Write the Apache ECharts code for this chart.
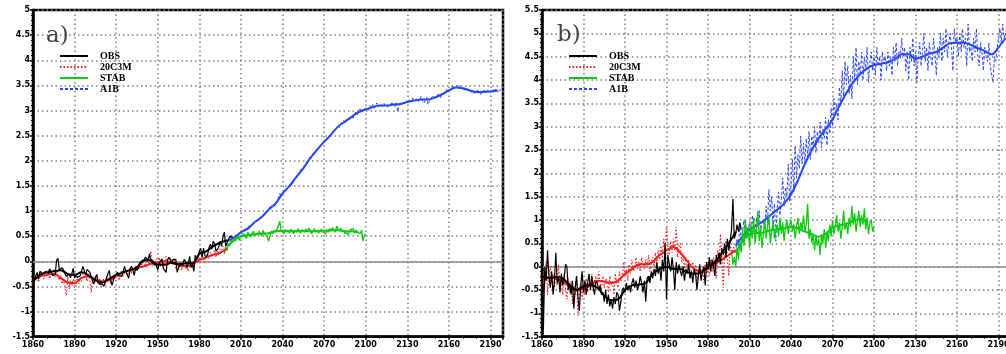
<!DOCTYPE html>
<html>
<head>
<meta charset="utf-8">
<script src="https://cdn.jsdelivr.net/npm/echarts@6/dist/echarts.min.js"></script>
<style>
html,body{margin:0;padding:0;background:#fff;overflow:hidden;}
#c{width:1015px;height:354px;}
</style>
</head>
<body>
<div id="c"></div>
<script>
// ---------- DATA (panel a) ----------
const obsStart = 1860;
const obsA = [
-0.55,-0.35,-0.38,-0.22,-0.35,-0.2,-0.22,-0.25,-0.22,-0.2,
-0.18,-0.24,-0.15,-0.2,-0.28,-0.3,-0.27,0.02,0.06,-0.17,
-0.2,-0.13,-0.17,-0.24,-0.3,-0.29,-0.26,-0.33,-0.25,-0.14,
-0.33,-0.27,-0.32,-0.33,-0.29,-0.26,-0.1,-0.12,-0.27,-0.16,
-0.14,-0.22,-0.3,-0.4,-0.45,-0.32,-0.26,-0.42,-0.46,-0.48,
-0.45,-0.5,-0.42,-0.4,-0.25,-0.18,-0.37,-0.48,-0.38,-0.28,
-0.28,-0.22,-0.29,-0.28,-0.3,-0.21,-0.1,-0.2,-0.19,-0.34,
-0.15,-0.1,-0.16,-0.28,-0.14,-0.18,-0.13,-0.02,0.0,-0.03,
0.02,0.08,0.06,0.03,0.15,0.0,-0.02,-0.06,-0.07,-0.08,
-0.18,-0.03,0.0,0.05,-0.14,-0.15,-0.22,0.02,0.08,0.03,
-0.05,0.04,0.01,0.04,-0.22,-0.13,-0.06,-0.04,-0.08,0.04,
0.0,-0.13,-0.04,0.1,-0.12,-0.06,-0.2,0.12,0.03,0.1,
0.2,0.26,0.08,0.26,0.12,0.08,0.14,0.28,0.34,0.24,
0.4,0.35,0.2,0.2,0.28,0.4,0.3,0.48,0.58,0.3,
0.32,0.44,0.5,0.5,0.48];
const smoothStep = 5;
const obsSmoothA = [-0.4,-0.27,-0.22,-0.2,-0.18,-0.25,-0.27,-0.22,-0.28,-0.38,-0.42,-0.35,-0.27,-0.22,-0.17,-0.12,0.02,0.02,-0.07,-0.07,-0.03,-0.06,-0.04,-0.04,0.15,0.2,0.3,0.37,0.42];
const c20Start = 1860;
const c20A = [
-0.45,-0.3,-0.38,-0.25,-0.42,-0.3,-0.2,-0.28,-0.35,-0.22,
-0.3,-0.18,-0.35,-0.2,-0.27,-0.15,-0.32,-0.2,-0.3,-0.38,
-0.28,-0.45,-0.35,-0.5,-0.68,-0.3,-0.55,-0.38,-0.48,-0.35,
-0.42,-0.5,-0.3,-0.45,-0.33,-0.4,-0.25,-0.32,-0.28,-0.4,
-0.25,-0.35,-0.62,-0.3,-0.42,-0.38,-0.28,-0.45,-0.35,-0.5,
-0.42,-0.35,-0.48,-0.3,-0.4,-0.32,-0.45,-0.38,-0.28,-0.35,
-0.3,-0.22,-0.38,-0.25,-0.18,-0.3,-0.2,-0.15,-0.28,-0.2,
-0.12,-0.25,-0.15,-0.2,-0.08,-0.18,-0.1,-0.15,-0.05,-0.12,
-0.15,-0.05,-0.12,0.05,-0.08,0.2,-0.1,-0.02,-0.08,0.05,
-0.05,0.08,-0.1,0.02,0.05,-0.08,0.1,0.0,-0.05,0.07,
0.02,-0.08,0.05,-0.15,-0.05,-0.12,0.0,-0.18,-0.1,-0.05,
-0.15,-0.08,-0.2,-0.05,-0.12,0.0,-0.1,-0.02,0.05,-0.03,
0.08,0.0,0.1,0.05,-0.02,0.12,0.15,0.05,0.18,0.1,
0.15,0.22,0.08,0.2,0.12,0.25,0.18,0.3,0.22,0.28];
const c20SmoothA = [-0.38,-0.3,-0.27,-0.25,-0.33,-0.42,-0.43,-0.33,-0.3,-0.36,-0.4,-0.38,-0.3,-0.22,-0.18,-0.13,-0.1,-0.05,-0.03,0.0,-0.02,-0.08,-0.1,-0.06,0.03,0.08,0.13,0.17,0.24];
const stabStartA = 1998;
const stabA = [
0.15,0.28,
0.22,0.35,0.3,0.42,0.38,0.45,0.4,0.5,0.48,0.42,
0.52,0.48,0.55,0.5,0.45,0.58,0.52,0.48,0.55,0.6,
0.5,0.56,0.52,0.6,0.55,0.5,0.62,0.55,0.58,0.48,
0.4,0.52,0.6,0.55,0.62,0.58,0.65,0.7,0.8,0.62,
0.6,0.55,0.63,0.58,0.62,0.56,0.64,0.6,0.55,0.62,
0.58,0.65,0.6,0.56,0.63,0.6,0.58,0.64,0.6,0.66,
0.62,0.55,0.6,0.65,0.58,0.62,0.56,0.6,0.64,0.58,
0.6,0.55,0.62,0.58,0.65,0.6,0.67,0.62,0.58,0.7,
0.64,0.6,0.66,0.58,0.62,0.55,0.6,0.52,0.58,0.63,
0.6,0.65,0.56,0.62,0.58,0.6,0.55,0.62,0.4,0.52,
0.55];
const futSmoothStart = 2000;
const stabSmoothA = [0.3,0.42,0.5,0.52,0.54,0.55,0.56,0.6,0.61,0.6,0.6,0.61,0.6,0.6,0.61,0.62,0.62,0.6,0.6,0.57];
const a1bStart = 2000;
const a1bA = [
0.4,0.45,0.42,0.48,0.5,0.46,0.52,0.55,0.5,0.57,
0.58,0.55,0.62,0.6,0.66,0.63,0.7,0.68,0.74,0.72,
0.76,0.8,0.78,0.85,0.82,0.9,0.88,0.95,0.92,1.0,
1.02,1.08,1.05,1.12,1.15,1.1,1.2,1.25,1.35,1.3,
1.32,1.38,1.35,1.42,1.47,1.5,1.55,1.5,1.62,1.65,
1.68,1.72,1.78,1.82,1.8,1.88,1.92,1.95,2.0,2.05,
2.08,2.1,2.15,2.12,2.2,2.22,2.25,2.3,2.28,2.35,
2.38,2.42,2.45,2.48,2.5,2.52,2.56,2.55,2.62,2.65,
2.7,2.66,2.74,2.72,2.8,2.76,2.82,2.85,2.8,2.88,
2.9,2.85,2.93,2.98,2.92,3.0,3.05,2.95,3.02,3.0,
3.05,3.08,3.0,3.1,3.06,3.12,3.04,3.1,3.15,3.08,
3.05,3.12,3.08,3.15,3.1,3.13,3.07,3.12,3.1,3.15,
3.12,3.08,3.15,2.98,3.1,3.16,3.12,3.18,3.14,3.2,
3.15,3.2,3.22,3.18,3.25,3.2,3.17,3.24,3.18,3.22,
3.28,3.2,3.15,3.22,3.26,3.12,3.2,3.25,3.22,3.3,
3.25,3.3,3.28,3.32,3.26,3.35,3.3,3.38,3.42,3.36,
3.4,3.45,3.42,3.48,3.5,3.46,3.52,3.48,3.45,3.5,
3.42,3.46,3.4,3.44,3.38,3.42,3.36,3.4,3.34,3.38,
3.35,3.4,3.36,3.32,3.38,3.35,3.4,3.36,3.42,3.38,
3.4,3.35,3.42,3.38,3.44,3.4,3.36,3.42,3.38,3.4];
const a1bSmoothA = [0.4,0.47,0.58,0.65,0.78,0.88,1.03,1.15,1.35,1.5,1.68,1.85,2.05,2.22,2.38,2.52,2.68,2.78,2.88,2.97,3.02,3.07,3.1,3.1,3.12,3.13,3.17,3.2,3.22,3.22,3.26,3.32,3.4,3.46,3.44,3.4,3.37,3.37,3.38,3.4];

// ---------- DATA (panel b) ----------
const obsB = [
0.2,-1.35,0.0,-0.3,0.35,-0.2,-0.45,-0.1,-0.6,-0.3,
0.3,-0.35,-0.2,-0.55,-0.15,-0.4,-0.25,0.05,0.0,-0.5,
-0.35,-0.6,-0.3,-0.9,-0.45,-0.2,-0.65,-0.95,-0.4,-0.1,
-0.55,-0.3,-0.6,-0.35,-0.15,-0.5,-0.2,-0.45,-0.6,-0.3,
-0.35,-0.5,-0.4,-0.6,-0.55,-0.75,-0.5,-0.8,-0.6,-0.85,
-0.7,-0.9,-0.65,-0.8,-0.55,-0.6,-0.95,-0.75,-0.5,-0.45,
-0.55,-0.35,-0.5,-0.4,-0.55,-0.35,-0.25,-0.45,-0.3,-0.5,
-0.4,-0.2,-0.35,-0.55,-0.3,-0.75,-0.25,-0.2,-0.35,-0.1,
-0.25,-0.05,-0.2,0.1,-0.15,0.0,-0.3,0.15,-0.1,0.5,
-0.7,0.25,0.05,-0.1,0.2,-0.05,-0.5,0.1,-0.15,0.05,
-0.1,-0.2,0.0,-0.3,-0.05,-0.15,0.05,-0.25,-0.1,-0.35,
-0.05,-0.15,-0.5,-0.2,0.05,-0.3,-0.1,0.0,-0.4,0.1,
-0.05,0.2,-0.1,0.15,0.0,-0.2,0.25,0.1,0.3,0.05,
0.4,0.25,0.5,0.2,0.6,0.35,0.55,0.8,1.45,0.6,
0.7,0.9,0.75,0.95,0.8];
const obsSmoothB = [-0.2,-0.25,-0.22,-0.25,-0.4,-0.5,-0.42,-0.4,-0.45,-0.62,-0.72,-0.7,-0.5,-0.4,-0.38,-0.35,-0.15,-0.05,0.0,-0.05,-0.05,-0.12,-0.15,-0.12,0.0,0.1,0.3,0.5,0.75];
const c20B = [
-0.5,-0.1,-0.4,0.1,-0.6,-0.2,0.0,-0.35,-0.15,-0.45,
-0.2,-0.4,0.05,-0.5,-0.3,-0.6,-0.15,-0.45,-0.7,-0.25,
-0.55,-0.3,-0.8,-0.4,-0.6,-0.2,-1.05,-0.5,-0.35,-0.7,
-0.4,-0.6,-0.25,-0.55,-0.35,-0.5,-0.15,-0.45,-0.3,-0.2,
-0.4,-0.1,-0.35,-0.5,-0.2,-0.45,-0.25,-0.3,-0.55,-0.2,
-0.4,-0.3,-0.6,-0.15,-0.35,-0.45,-0.1,-0.3,-0.25,0.1,
-0.2,-0.05,-0.3,0.05,-0.15,0.15,-0.1,0.0,0.2,-0.05,
0.1,-0.1,0.2,0.05,-0.05,0.15,0.0,0.25,-0.1,0.1,
0.2,0.0,0.3,0.1,0.35,0.15,0.45,0.2,0.6,0.3,
0.85,0.4,0.25,0.55,0.3,0.6,0.35,0.85,0.2,0.45,
0.5,0.1,0.3,-0.05,0.2,0.0,0.15,-0.2,-0.05,0.1,
-0.15,0.05,-0.3,-0.1,0.0,-0.2,-0.05,-0.35,0.1,-0.15,
0.0,-0.2,0.15,-0.1,0.2,0.05,-0.25,0.35,0.1,0.7,
0.15,-0.45,0.3,0.6,0.2,-0.2,0.45,0.35,0.3,0.5];
const c20SmoothB = [-0.38,-0.22,-0.25,-0.32,-0.42,-0.5,-0.48,-0.4,-0.3,-0.32,-0.35,-0.3,-0.15,-0.05,0.05,0.05,0.1,0.25,0.35,0.42,0.3,0.12,-0.05,-0.1,-0.05,0.05,0.15,0.25,0.35];
const stabStartB = 1997;
const stabB = [
0.35,0.05,0.2,
0.0,0.4,0.15,0.55,0.3,0.8,0.45,1.0,0.6,0.85,
0.4,0.9,0.6,1.05,0.5,0.75,1.2,0.55,0.85,0.4,
0.7,1.0,0.6,0.85,1.1,0.5,0.75,0.95,0.6,0.8,
0.9,0.65,1.05,0.7,0.95,0.55,0.85,1.0,0.7,0.9,
1.0,0.75,0.9,0.6,0.85,1.05,0.7,0.95,0.8,1.1,
0.75,0.9,1.35,0.6,0.8,0.5,0.7,0.35,0.65,0.45,
0.6,0.25,0.7,0.5,0.8,0.4,0.75,0.55,0.9,0.65,
1.0,0.7,0.85,1.1,0.75,0.95,0.6,0.85,1.2,0.8,
0.95,0.7,1.05,0.85,1.3,0.9,1.15,0.75,1.0,1.2,
0.85,1.1,0.9,1.25,0.8,1.05,0.7,0.95,1.0,0.75,
0.85];
const stabSmoothB = [0.3,0.55,0.7,0.72,0.73,0.78,0.8,0.82,0.86,0.82,0.75,0.7,0.64,0.7,0.84,0.88,0.92,0.98,1.02,0.95];
const a1bB = [
0.3,0.6,0.45,0.9,0.55,0.75,1.0,0.6,0.85,0.7,
0.95,0.65,1.1,0.8,0.7,1.05,0.85,1.2,0.75,0.9,
1.0,0.8,1.3,0.95,1.65,1.2,1.5,0.9,1.35,0.55,
1.25,1.6,1.1,1.45,1.9,1.3,1.7,1.5,2.2,1.4,
1.75,2.3,1.6,2.6,1.9,2.4,2.1,2.8,2.2,2.65,
2.2,2.75,2.35,2.9,2.3,2.8,2.55,3.0,2.45,2.9,
2.65,3.1,2.55,2.95,2.75,3.2,2.6,3.15,2.85,3.4,
3.0,3.6,3.25,3.5,3.15,3.85,3.45,4.2,3.6,4.4,
3.9,4.3,3.7,4.1,3.6,4.5,4.0,4.7,3.9,4.4,
4.1,4.6,4.0,4.5,4.2,4.7,3.95,4.4,4.6,4.2,
4.5,4.1,4.7,4.3,4.5,4.0,4.6,4.35,4.5,4.2,
4.6,4.3,4.5,4.1,4.7,4.4,4.8,4.3,4.6,4.45,
4.9,4.5,4.7,4.2,4.6,4.0,4.7,4.4,4.9,4.3,
4.6,3.95,4.5,4.8,4.3,4.6,5.0,4.4,4.7,4.2,
4.8,4.5,4.3,4.9,4.6,4.1,4.7,4.5,5.0,4.4,
4.9,4.6,5.1,4.5,4.8,5.0,4.7,4.2,5.1,4.8,
4.9,4.5,5.0,4.6,5.1,4.7,4.9,4.3,5.2,4.6,
4.7,4.4,4.9,4.6,5.1,4.5,4.3,4.8,4.6,4.2,
4.7,4.5,4.4,4.8,4.3,4.1,3.95,4.5,4.4,4.7,
4.9,5.1,4.8,5.2,4.9,5.0,4.8,5.1,4.9,5.0];
const a1bSmoothB = [0.45,0.65,0.8,0.88,0.98,1.1,1.22,1.35,1.55,1.85,2.2,2.5,2.75,2.95,3.15,3.45,3.72,3.95,4.12,4.25,4.32,4.35,4.38,4.45,4.55,4.55,4.45,4.5,4.57,4.6,4.7,4.79,4.8,4.8,4.75,4.68,4.62,4.55,4.7,4.9];

const xTicksStep = 30;
const yLimitsA = [-1.5, 5];
const yLimitsB = [-1.5, 5.5];
const names = ['OBS','20C3M','STAB','A1B'];
const panelLabels = ['a)','b)'];

// ---------- BUILD ----------
function pairs(start, step, arr){ return arr.map((v,i)=>[start+i*step, v]); }

const COL = {obs:'#000000', c20:'#ff1a1a', stab:'#10c810', a1b:'#2846ff'};
const labelFont = {fontFamily:'DejaVu Sans', fontWeight:'bold', fontSize:8, color:'#000'};

function xAx(gi){
  return {type:'value', gridIndex:gi, min:1860, max:2199, interval:xTicksStep,
    axisLine:{show:true, onZero:false, lineStyle:{color:'#000', width:2.5}},
    axisTick:{show:true, length:3, lineStyle:{color:'#000', width:1.5}},
    minorTick:{show:true, splitNumber:3, length:2, lineStyle:{color:'#000'}},
    splitLine:{show:true, lineStyle:{color:'#808080', width:1.5, type:[1.5,3]}},
    axisLabel:Object.assign({margin:4, showMaxLabel:false, formatter:v=>String(v)}, labelFont)};
}
function yAx(gi, lim){
  return {type:'value', gridIndex:gi, min:lim[0], max:lim[1], interval:0.5,
    axisLine:{show:true, onZero:false, lineStyle:{color:'#000', width:2.5}},
    axisTick:{show:true, length:3, lineStyle:{color:'#000', width:1.5}},
    minorTick:{show:true, splitNumber:5, length:2, lineStyle:{color:'#000'}},
    splitLine:{show:true, lineStyle:{color:'#808080', width:1.5, type:[1.5,3]}},
    axisLabel:Object.assign({margin:3, formatter:v=>String(v)}, labelFont)};
}
function line(gi, name, data, color, width, type, z){
  return {type:'line', name:name, xAxisIndex:gi, yAxisIndex:gi, data:data,
    showSymbol:false, symbol:'none', silent:true, z:z,
    lineStyle:{color:color, width:width, type:type}, itemStyle:{color:color}};
}
function smoothLine(gi, name, data, color, z){
  const s = line(gi, name, data, color, 2, 'solid', z);
  s.smooth = 0.35;
  return s;
}
function panelSeries(gi, d){
  const arr = [
    line(gi, 'A1B', pairs(a1bStart,1,d.a1b), COL.a1b, 1, [3,2], 2),
    smoothLine(gi, 'A1B', pairs(futSmoothStart,smoothStep,d.a1bS), COL.a1b, 3),
    line(gi, 'STAB', pairs(d.stabStart,1,d.stab), COL.stab, 1.3, 'solid', 4),
    smoothLine(gi, 'STAB', pairs(futSmoothStart,smoothStep,d.stabS), COL.stab, 5),
    line(gi, '20C3M', pairs(c20Start,1,d.c20), COL.c20, 1.2, [1.5,2], 6),
    smoothLine(gi, '20C3M', pairs(c20Start,smoothStep,d.c20S), COL.c20, 7),
    line(gi, 'OBS', pairs(obsStart,1,d.obs), COL.obs, 1.2, 'solid', 8),
    smoothLine(gi, 'OBS', pairs(obsStart,smoothStep,d.obsS), COL.obs, 9)
  ];
  arr[0].markLine = {silent:true, symbol:'none', label:{show:false}, animation:false,
    lineStyle:{color:'#8c8c8c', width:1.5, type:'solid'}, data:[{yAxis:0}]};
  return arr;
}

const series = [].concat(
  panelSeries(0, {a1b:a1bA, a1bS:a1bSmoothA, stab:stabA, stabS:stabSmoothA, stabStart:stabStartA, c20:c20A, c20S:c20SmoothA, obs:obsA, obsS:obsSmoothA}),
  panelSeries(1, {a1b:a1bB, a1bS:a1bSmoothB, stab:stabB, stabS:stabSmoothB, stabStart:stabStartB, c20:c20B, c20S:c20SmoothB, obs:obsB, obsS:obsSmoothB})
);

function legendAt(left){
  return {show:true, orient:'vertical', left:left, top:51, itemWidth:28, itemHeight:10, itemGap:1,
    padding:0, selectedMode:false, data:names,
    itemStyle:{opacity:0, borderWidth:0},
    textStyle:{fontFamily:'Liberation Serif', fontWeight:'bold', fontSize:10, color:'#000', padding:[0,0,0,7]}};
}

const chart = echarts.init(document.getElementById('c'), null, {renderer:'canvas'});
chart.setOption({
  animation:false,
  backgroundColor:'#fff',
  grid:[
    {left:33, top:10, width:470, height:326.7, show:true, borderColor:'#000', borderWidth:2.5, backgroundColor:'transparent'},
    {left:542, top:10, width:469, height:326.7, show:true, borderColor:'#000', borderWidth:2.5, backgroundColor:'transparent'}
  ],
  xAxis:[xAx(0), xAx(1)],
  yAxis:[yAx(0, yLimitsA), yAx(1, yLimitsB)],
  title:[
    {text:panelLabels[0], left:46, top:25, padding:0, textStyle:{fontFamily:'DejaVu Serif', fontWeight:'normal', fontSize:23, color:'#444'}},
    {text:panelLabels[1], left:557, top:24, padding:0, textStyle:{fontFamily:'DejaVu Serif', fontWeight:'normal', fontSize:23, color:'#444'}}
  ],
  legend:[legendAt(59), legendAt(568)],
  series:series
});
</script>
</body>
</html>
